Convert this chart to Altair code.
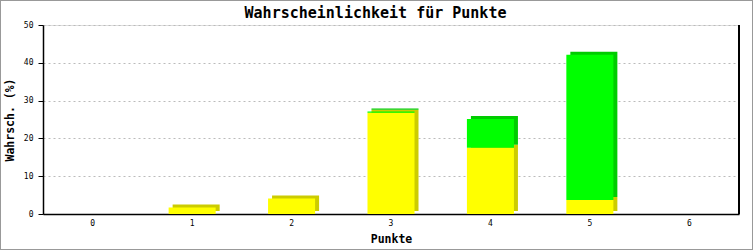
import altair as alt
import pandas as pd

titel = "Wahrscheinlichkeit für Punkte"
punkte = [0, 1, 2, 3, 4, 5, 6]
serien = ["Serie 1", "Serie 2"]
gelb = [0.0, 1.7, 4.1, 26.8, 17.5, 3.7, 0.0]
gruen = [0.0, 0.0, 0.0, 0.3, 7.6, 38.4, 0.0]
y_ticks = [0, 10, 20, 30, 40, 50]

rows = []
for i, p in enumerate(punkte):
    rows.append({"Punkte": str(p), "Serie": serien[0], "ord": 0, "Wert": gelb[i]})
    rows.append({"Punkte": str(p), "Serie": serien[1], "ord": 1, "Wert": gruen[i]})
df = pd.DataFrame(rows)

MONO = "DejaVu Sans Mono"
W, H = 696, 189

xenc = alt.X(
    "Punkte:N",
    sort=[str(p) for p in punkte],
    scale=alt.Scale(paddingInner=0.527, paddingOuter=0.2635),
    axis=alt.Axis(
        title="Punkte", labelAngle=0, ticks=False, labelPadding=5,
        titlePadding=6, domainColor="black", domainWidth=1.5,
        labelFont=MONO, labelFontSize=8, labelColor="black",
        titleFont=MONO, titleFontSize=11.5, titleFontWeight="bold",
        titleColor="black", grid=False,
    ),
)
yenc = alt.Y(
    "Wert:Q",
    stack="zero",
    scale=alt.Scale(domain=[0, 50], nice=False),
    axis=alt.Axis(
        title="Wahrsch. (%)", values=y_ticks, tickSize=5, tickColor="black",
        labelPadding=5, titlePadding=8, domainColor="black", domainWidth=1.5,
        labelFont=MONO, labelFontSize=8, labelColor="black",
        titleFont=MONO, titleFontSize=11.5, titleFontWeight="bold",
        titleColor="black", grid=True, gridColor="#bbbbbb", gridDash=[2, 3],
    ),
)

back = alt.Chart(df).mark_bar(xOffset=4, yOffset=-3).encode(
    x=xenc,
    y=yenc,
    fill=alt.Fill("Serie:N", scale=alt.Scale(domain=serien, range=["#cccc00", "#00cc00"]), legend=None),
    order=alt.Order("ord:O"),
)
front = alt.Chart(df).mark_bar().encode(
    x=xenc,
    y=yenc,
    color=alt.Color("Serie:N", scale=alt.Scale(domain=serien, range=["#ffff00", "#00ff00"]), legend=None),
    order=alt.Order("ord:O"),
)
right_line = alt.Chart(df).mark_rule(color="black", strokeWidth=1.5).encode(
    x=alt.value(W), y=alt.value(0), y2=alt.value(H)
)
frame = alt.Chart(df).mark_rect(fill="none", stroke="#999999", strokeWidth=2).encode(
    x=alt.value(-43), x2=alt.value(753 - 43), y=alt.value(-25), y2=alt.value(250 - 25)
)
title_mark = alt.Chart(pd.DataFrame({"t": [titel]})).mark_text(
    font=MONO, fontSize=15, fontWeight="bold", color="black",
    align="center", baseline="middle",
).encode(text="t:N", x=alt.value(332.5), y=alt.value(-12.5))

chart = alt.layer(back, front, right_line, frame, title_mark).properties(
    width=W,
    height=H,
    autosize=alt.AutoSizeParams(type="none"),
    padding={"left": 43, "top": 25, "right": 14, "bottom": 36},
).configure_view(stroke=None).configure(background="white")

chart.save("out.html", embed_options={"renderer": "svg", "actions": False})
